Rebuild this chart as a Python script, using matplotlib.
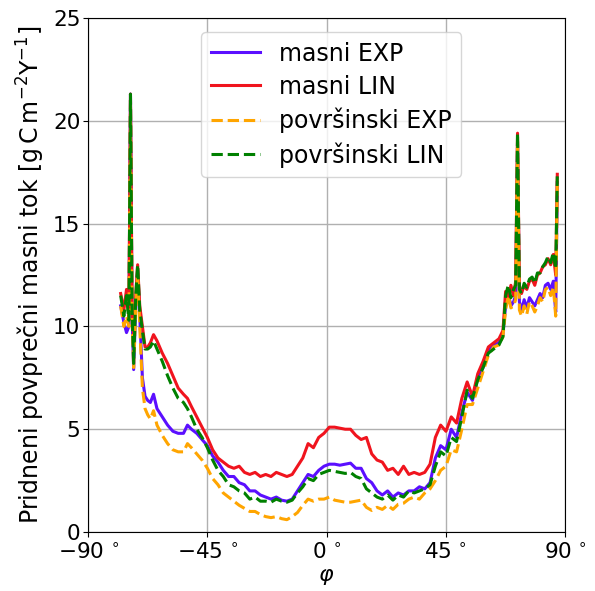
import matplotlib
matplotlib.use("Agg")
import matplotlib.pyplot as plt

# geografska sirina
lat = [-77.7, -76.5, -75.5, -74.6, -74.0, -73.4, -72.8, -72.0, -71.3, -70.5,
       -69.5, -68.5, -67.5, -66.5, -65.3, -64, -62, -60, -58, -56,
       -54, -52.5, -51, -49, -47, -45, -43, -41, -39, -37,
       -35, -33, -31, -29, -27, -25, -23, -21, -19, -17,
       -15, -13, -11, -9, -7, -5, -3, -1, 1, 3,
       5, 7, 9, 11, 13, 15, 17, 19, 21, 23,
       25, 27, 29, 31, 33, 35, 37, 39, 41, 43,
       45, 47, 49, 51, 53, 55, 57, 59, 61, 63,
       65, 66.5, 67.5, 68.5, 69.5, 70.5, 71.3, 72.0, 72.7, 73.5,
       74.5, 75.5, 76.5, 77.5, 78.5, 79.5, 80.5, 81.5, 82.5, 83.5,
       84.5, 85.5, 86.4, 87.0]

masni_exp = [11.0, 10.2, 9.7, 10.0, 21.3, 10.5, 7.9, 11.0, 12.8, 10.5,
             7.5, 6.6, 6.4, 6.3, 6.7, 6.0, 5.6, 5.2, 4.9, 4.8,
             4.8, 5.2, 5.0, 4.8, 4.5, 4.2, 3.7, 3.4, 3.0, 2.7,
             2.7, 2.4, 2.3, 2.0, 2.0, 1.8, 1.7, 1.6, 1.7, 1.55,
             1.5, 1.6, 2.0, 2.4, 2.8, 2.7, 3.0, 3.2, 3.3, 3.3,
             3.25, 3.3, 3.35, 3.1, 3.1, 2.6, 2.4, 2.0, 1.8, 2.0,
             1.7, 1.9, 1.8, 2.0, 2.0, 2.2, 2.1, 2.4, 3.6, 4.2,
             4.0, 5.0, 4.6, 5.8, 6.8, 6.4, 7.5, 8.0, 8.8, 9.1,
             9.2, 9.6, 11.0, 11.6, 11.0, 11.2, 11.5, 19.0, 11.2, 10.8,
             11.3, 10.9, 11.4, 11.2, 11.0, 11.3, 11.6, 11.4, 12.0, 12.1,
             11.8, 12.2, 10.7, 17.0]

masni_lin = [11.6, 10.8, 11.8, 10.5, 21.3, 11.0, 9.5, 11.5, 13.0, 11.0,
             10.0, 9.0, 9.0, 9.2, 9.6, 9.3, 8.7, 8.2, 7.6, 7.0,
             6.7, 6.5, 6.1, 5.6, 5.1, 4.6, 4.0, 3.6, 3.4, 3.2,
             3.1, 3.2, 2.9, 2.8, 2.9, 2.7, 2.8, 2.7, 2.9, 2.8,
             2.7, 2.8, 3.2, 3.6, 4.3, 4.1, 4.6, 4.8, 5.1, 5.1,
             5.05, 5.0, 5.0, 4.7, 4.5, 4.6, 3.8, 3.5, 3.4, 3.0,
             3.1, 2.8, 3.2, 2.8, 2.9, 2.8, 2.9, 3.3, 4.6, 5.2,
             4.9, 5.6, 5.3, 6.5, 7.3, 6.6, 7.7, 8.3, 9.0, 9.2,
             9.4, 9.8, 11.7, 11.3, 12.0, 11.5, 12.2, 19.4, 12.0, 11.6,
             12.0, 11.8, 12.2, 12.3, 12.0, 12.5, 12.6, 12.9, 13.0, 13.3,
             13.0, 13.5, 12.5, 17.4]

povrsinski_exp = [11.0, 10.0, 10.5, 10.0, 21.0, 10.3, 8.0, 11.0, 12.5, 10.0,
                  7.0, 6.0, 5.7, 5.5, 5.9, 5.2, 4.7, 4.3, 4.0, 3.9,
                  3.9, 4.3, 4.1, 3.8, 3.5, 3.1, 2.6, 2.3, 1.9, 1.7,
                  1.5, 1.3, 1.15, 1.0, 1.0, 0.85, 0.75, 0.7, 0.75, 0.65,
                  0.6, 0.75, 0.95, 1.3, 1.6, 1.5, 1.6, 1.6, 1.7, 1.55,
                  1.5, 1.45, 1.45, 1.5, 1.55, 1.2, 1.05, 1.2, 1.1, 1.3,
                  1.1, 1.35, 1.4, 1.6, 1.7, 1.6, 1.9, 2.1, 2.5, 3.0,
                  3.2, 4.0, 3.9, 5.0, 6.2, 6.2, 7.0, 7.8, 8.6, 9.0,
                  9.1, 9.5, 10.8, 11.5, 10.9, 11.0, 11.3, 19.0, 10.8, 10.5,
                  11.0, 10.6, 11.2, 11.0, 10.7, 11.0, 11.4, 11.2, 11.8, 11.9,
                  11.5, 11.9, 10.5, 17.0]

povrsinski_lin = [11.5, 10.5, 11.5, 10.3, 21.3, 10.8, 8.2, 11.5, 13.0, 10.8,
                  9.8, 8.9, 8.9, 9.0, 9.3, 8.9, 8.3, 7.6, 7.0, 6.5,
                  6.3, 6.0, 5.6, 5.0, 4.6, 4.1, 3.5, 3.0, 2.7, 2.3,
                  2.2, 2.0, 1.9, 1.6, 1.7, 1.5, 1.5, 1.45, 1.6, 1.5,
                  1.45, 1.55, 1.9, 2.2, 2.6, 2.5, 2.8, 2.9, 3.0, 2.95,
                  2.9, 2.85, 2.9, 2.7, 2.6, 2.1, 1.9, 1.7, 1.6, 1.8,
                  1.55, 1.8, 1.7, 2.0, 1.9, 2.0, 2.1, 2.3, 3.2, 3.9,
                  3.7, 4.6, 4.4, 5.6, 6.9, 6.5, 7.4, 8.0, 8.7, 8.9,
                  9.1, 9.5, 11.5, 12.0, 11.4, 11.8, 12.0, 19.4, 11.8, 11.6,
                  12.1, 11.9, 12.3, 12.4, 12.1, 12.6, 12.6, 12.9, 13.1, 13.4,
                  13.1, 13.6, 12.8, 17.3]

xticks = [-90, -45, 0, 45, 90]
yticks = [0, 5, 10, 15, 20, 25]

fig = plt.figure(figsize=(5.95, 5.91), dpi=100)
ax = fig.add_axes([0.148, 0.0998, 0.802, 0.8697])

ax.plot(lat, masni_exp, color='#5b0fff', lw=2.2, label='masni EXP')
ax.plot(lat, masni_lin, color='#f0141e', lw=2.2, label='masni LIN')
ax.plot(lat, povrsinski_exp, color='orange', lw=2.2, ls='--', label='površinski EXP')
ax.plot(lat, povrsinski_lin, color='green', lw=2.2, ls='--', label='površinski LIN')

ax.set_xlim(-90, 90)
ax.set_ylim(0, 25)
ax.set_xticks(xticks)
ax.set_xticklabels([r'$%d\,^\circ$' % t for t in xticks])
ax.set_yticks(yticks)
ax.tick_params(labelsize=15.5)
ax.tick_params(axis='x', pad=4)
ax.tick_params(axis='y', pad=2)
ax.grid(True, color='#b0b0b0', lw=1)

ax.set_xlabel(r'$\varphi$', fontsize=16, labelpad=3)
ax.set_ylabel(r'Pridneni povprečni masni tok [$\mathrm{g\,C\,m^{-2}Y^{-1}}$]', fontsize=17, labelpad=4)
ax.legend(loc='upper center', fontsize=17, handlelength=2.1,
          labelspacing=0.38, borderaxespad=0.6,
          bbox_to_anchor=(0.51, 1.0))

fig.savefig('out.png', dpi=100)
